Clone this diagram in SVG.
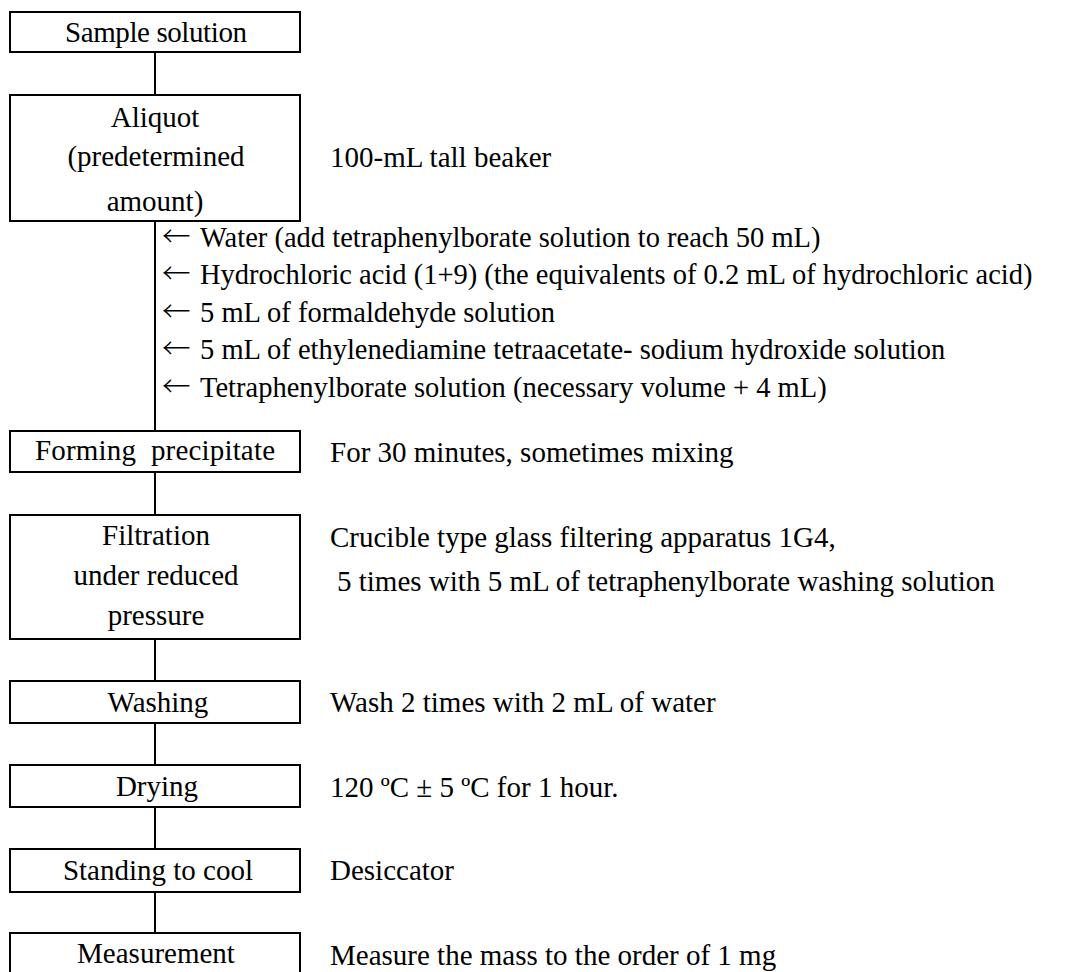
<svg xmlns="http://www.w3.org/2000/svg" width="1078" height="972" viewBox="0 0 1078 972">
<style>
.box{fill:#fff;stroke:#000;stroke-width:2}
.ln{stroke:#000;stroke-width:2;fill:none}
.t{font-family:'Liberation Serif',serif;font-size:29px;fill:#000}
.a{font-family:'Liberation Serif',serif;font-size:28.5px;fill:#000}
.r{font-family:'Liberation Serif',serif;font-size:29px;fill:#000}
.arr{font-family:'Noto Sans CJK JP','Liberation Serif',sans-serif;font-weight:300}
.c{text-anchor:middle}
</style>
<rect width="1078" height="972" fill="#fff"/>
<g id="connectors">
<line class="ln" x1="155" y1="52" x2="155" y2="95"/>
<line class="ln" x1="155" y1="221" x2="155" y2="431"/>
<line class="ln" x1="155" y1="472" x2="155" y2="515"/>
<line class="ln" x1="155" y1="639" x2="155" y2="681"/>
<line class="ln" x1="155" y1="723" x2="155" y2="765"/>
<line class="ln" x1="155" y1="807" x2="155" y2="849"/>
<line class="ln" x1="155" y1="892" x2="155" y2="933"/>
</g>
<g id="n1"><rect class="box" x="10" y="12" width="290" height="40"/><text class="t c" x="156" y="42" textLength="182">Sample solution</text></g>
<g id="n2"><rect class="box" x="10" y="95" width="290" height="126"/>
<text class="t c" x="155" y="127">Aliquot</text>
<text class="t c" x="156" y="166">(predetermined</text>
<text class="t c" x="155" y="211">amount)</text></g>
<g id="n2note"><text class="r" x="330" y="167">100-mL tall beaker</text></g>
<g id="additions">
<text class="a" x="162" y="247"><tspan class="arr">←</tspan><tspan x="200">Water (add tetraphenylborate solution to reach 50 mL)</tspan></text>
<text class="a" x="162" y="284"><tspan class="arr">←</tspan><tspan x="200">Hydrochloric acid (1+9) (the equivalents of 0.2 mL of hydrochloric acid)</tspan></text>
<text class="a" x="162" y="322"><tspan class="arr">←</tspan><tspan x="200">5 mL of formaldehyde solution</tspan></text>
<text class="a" x="162" y="359"><tspan class="arr">←</tspan><tspan x="200">5 mL of ethylenediamine tetraacetate- sodium hydroxide solution</tspan></text>
<text class="a" x="162" y="397"><tspan class="arr">←</tspan><tspan x="200">Tetraphenylborate solution (necessary volume + 4 mL)</tspan></text>
</g>
<g id="n3"><rect class="box" x="10" y="431" width="290" height="41"/><text class="t c" x="155" y="460" textLength="240" xml:space="preserve">Forming  precipitate</text></g>
<g id="n3note"><text class="r" x="330" y="462">For 30 minutes, sometimes mixing</text></g>
<g id="n4"><rect class="box" x="10" y="515" width="290" height="124"/>
<text class="t c" x="156" y="545">Filtration</text>
<text class="t c" x="156" y="585">under reduced</text>
<text class="t c" x="156" y="625">pressure</text></g>
<g id="n4note"><text class="r" x="330" y="547">Crucible type glass filtering apparatus 1G4,</text>
<text class="r" x="337" y="591">5 times with 5 mL of tetraphenylborate washing solution</text></g>
<g id="n5"><rect class="box" x="10" y="681" width="290" height="42"/><text class="t c" x="158" y="712">Washing</text></g>
<g id="n5note"><text class="r" x="330" y="712">Wash 2 times with 2 mL of water</text></g>
<g id="n6"><rect class="box" x="10" y="765" width="290" height="42"/><text class="t c" x="157" y="796">Drying</text></g>
<g id="n6note"><text class="r" x="330" y="797">120 ºC ± 5 ºC for 1 hour.</text></g>
<g id="n7"><rect class="box" x="10" y="849" width="290" height="43"/><text class="t c" x="158" y="880">Standing to cool</text></g>
<g id="n7note"><text class="r" x="330" y="880">Desiccator</text></g>
<g id="n8"><rect class="box" x="10" y="933" width="290" height="50"/><text class="t c" x="156" y="963">Measurement</text></g>
<g id="n8note"><text class="r" x="330" y="965">Measure the mass to the order of 1 mg</text></g>
</svg>
